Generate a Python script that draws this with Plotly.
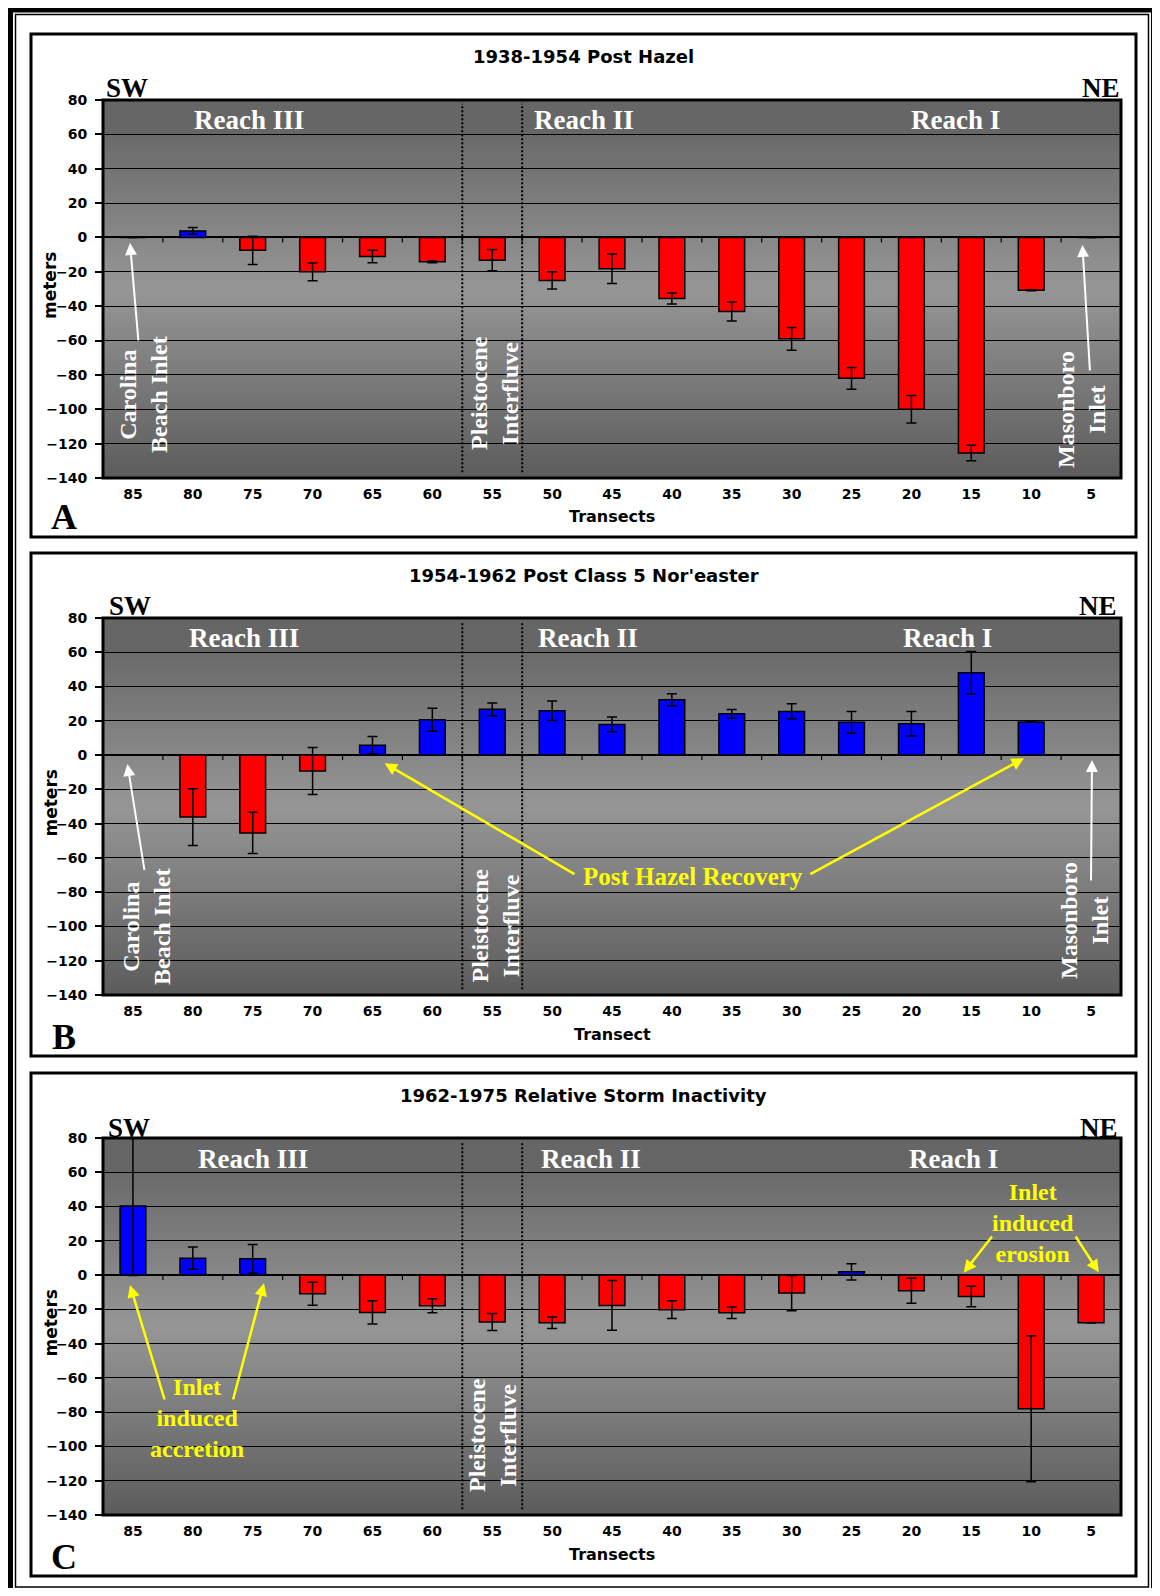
import plotly.graph_objects as go

# ---------------- data ----------------
transects = ["85", "80", "75", "70", "65", "60", "55", "50", "45", "40",
             "35", "30", "25", "20", "15", "10", "5"]

a_vals = [0, 3.8, -7.5, -20.0, -11.1, -14.2, -13.2, -25.0, -18.2, -35.5,
          -43.1, -59.0, -82.0, -100.0, -125.5, -30.7, 0]
a_err = [0, 2.0, 8.2, 5.2, 3.6, 0.5, 6.2, 5.0, 8.6, 3.2,
         5.5, 6.6, 6.3, 8.0, 4.5, 0.3, 0]

b_vals = [0, -36.2, -45.4, -9.3, 5.8, 20.6, 26.7, 25.9, 17.9, 32.3,
          24.1, 25.5, 19.1, 18.3, 48.1, 19.3, 0]
b_err = [0, 16.6, 12.0, 13.7, 5.0, 6.7, 3.7, 5.7, 4.3, 3.5,
         2.5, 4.5, 6.3, 7.1, 12.4, 0.2, 0]

c_vals = [40.3, 9.9, 9.5, -10.9, -21.8, -17.9, -27.4, -27.8, -17.7, -20.2,
          -22.0, -10.5, 1.9, -9.1, -12.5, -78.0, -27.8]
c_err = [40.5, 6.5, 8.3, 6.7, 6.8, 4.1, 5.0, 3.3, 14.5, 5.2,
         3.4, 10.3, 4.7, 7.3, 6.0, 42.6, 0.2]

y_ticks = [80, 60, 40, 20, 0, -20, -40, -60, -80, -100, -120, -140]

# ---------------- page geometry helpers ----------------
W, H, OFF = 1152, 1580, 8


def px(x):
    return (x - OFF) / W


def py(y):
    return 1 - (y - OFF) / H


PL, PR = 103, 1121
SERIF = "Liberation Serif"
SANS = "DejaVu Sans"

panels = [
    dict(vals=a_vals, err=a_err, title="1938-1954 Post Hazel", xtitle="Transects",
         letter="A", top=100, bottom=478, box=(31, 34, 1136, 537), title_y=57,
         sw=(127, 88), ne=(1100.5, 88),
         reach=[(248.5, 120), (584, 120), (955, 120)]),
    dict(vals=b_vals, err=b_err, title="1954-1962 Post Class 5 Nor'easter", xtitle="Transect",
         letter="B", top=618, bottom=995, box=(31, 553, 1136, 1056), title_y=575.7,
         sw=(130, 606), ne=(1097.5, 606),
         reach=[(243.6, 637.5), (588, 637.5), (947, 638)]),
    dict(vals=c_vals, err=c_err, title="1962-1975 Relative Storm Inactivity", xtitle="Transects",
         letter="C", top=1138, bottom=1515, box=(31, 1073, 1136, 1576), title_y=1095.7,
         sw=(129, 1127.5), ne=(1099, 1127.5),
         reach=[(253.4, 1158.5), (591, 1158.5), (953, 1159)]),
]

fig = go.Figure()
shapes = []
annotations = []

# outer decorative frame
shapes.append(dict(type="rect", xref="paper", yref="paper",
                   x0=px(10.5), x1=px(1153.5), y0=py(1593), y1=py(10),
                   line=dict(color="black", width=5), layer="above"))
shapes.append(dict(type="rect", xref="paper", yref="paper",
                   x0=px(15.5), x1=px(1148.5), y0=py(1587), y1=py(14.5),
                   line=dict(color="black", width=1.5), layer="above"))


def lerp(c1, c2, t):
    return tuple(round(a + (b - a) * t) for a, b in zip(c1, c2))


def shade(v):
    # vertical gradient of the plot area: dark at top/bottom, light in middle
    dark_top = (106, 106, 106)
    light = (150, 150, 150)
    dark_bot = (92, 92, 92)
    if v >= 60:
        return (102, 102, 102)
    if v >= -30:
        return lerp(light, dark_top, (v + 30) / 90)
    return lerp(dark_bot, light, (v + 140) / 110)


for i, p in enumerate(panels):
    sfx = "" if i == 0 else str(i + 1)
    xa, ya = "x" + sfx, "y" + sfx
    colors = ["#0000FF" if v > 0 else "#FF0000" for v in p["vals"]]
    fig.add_trace(go.Bar(
        x=transects, y=p["vals"], xaxis=xa, yaxis=ya, width=0.43,
        marker=dict(color=colors, line=dict(color="black", width=1.5)),
        error_y=dict(type="data", array=p["err"], visible=True, color="black",
                     thickness=1.5, width=5),
        showlegend=False, hoverinfo="skip"))

    dom_y = [py(p["bottom"]), py(p["top"])]
    fig.update_layout(**{
        "xaxis" + sfx: dict(domain=[px(PL), px(PR)], anchor=ya, type="category",
                            categoryorder="array", categoryarray=transects,
                            range=[-0.5, len(transects) - 0.5], showgrid=False,
                            zeroline=False, showline=False, ticks="",
                            ticklabelstandoff=6, automargin=False,
                            tickfont=dict(family=SANS, size=14, color="black", weight="bold")),
        "yaxis" + sfx: dict(domain=dom_y, anchor=xa, range=[-140, 80],
                            tickvals=y_ticks, showgrid=True, gridcolor="black",
                            gridwidth=1, zeroline=True, zerolinecolor="black",
                            zerolinewidth=1.5, showline=False, ticks="outside",
                            ticklen=7, tickwidth=1.5, tickcolor="black",
                            ticklabelstandoff=5, automargin=False,
                            tickfont=dict(family=SANS, size=14, color="black", weight="bold")),
    })

    # gradient background strips (overlapping to avoid seams)
    step = 2.5
    n = int(220 / step)
    for k in range(n):
        v0 = -140 + k * step
        c = shade(v0 + step / 2)
        shapes.append(dict(type="rect", xref=xa + " domain", yref=ya, x0=0, x1=1,
                           y0=v0, y1=min(v0 + step * 1.6, 80), line=dict(width=0),
                           fillcolor="rgb(%d,%d,%d)" % c, layer="below"))

    # plot frame
    shapes.append(dict(type="rect", xref=xa + " domain", yref=ya + " domain",
                       x0=0, x1=1, y0=0, y1=1, line=dict(color="black", width=3),
                       layer="above"))
    # dotted lines around transect 55
    for xb in (5.5, 6.5):
        shapes.append(dict(type="line", xref=xa, yref=ya + " domain", x0=xb, x1=xb,
                           y0=0.015, y1=0.99,
                           line=dict(color="black", width=2, dash="2px,2px"),
                           layer="above"))
    # category tick marks hanging from zero line
    for j in range(len(transects) - 1):
        shapes.append(dict(type="line", xref=xa, yref=ya, x0=j + 0.5, x1=j + 0.5,
                           ysizemode="pixel", yanchor=0, y0=0, y1=-5,
                           line=dict(color="black", width=1.2), layer="above"))
    # panel box
    bx0, by0, bx1, by1 = p["box"]
    shapes.append(dict(type="rect", xref="paper", yref="paper",
                       x0=px(bx0), x1=px(bx1), y0=py(by1), y1=py(by0),
                       line=dict(color="black", width=3), layer="above"))

    def ann(text, x, y, size, color="black", family=SERIF, angle=0, **kw):
        annotations.append(dict(text=text, x=px(x), y=py(y), xref="paper", yref="paper",
                                showarrow=False, xanchor="center", yanchor="middle",
                                textangle=angle,
                                font=dict(family=family, size=size, color=color), **kw))

    ann("<b>%s</b>" % p["title"], 583.5, p["title_y"], 18, family=SANS)
    ann("<b>SW</b>", p["sw"][0], p["sw"][1], 27)
    ann("<b>NE</b>", p["ne"][0], p["ne"][1], 27)
    for (rx, ry), label in zip(p["reach"], ["Reach III", "Reach II", "Reach I"]):
        ann("<b>%s</b>" % label, rx, ry, 27, color="white")
    ann("<b>%s</b>" % p["letter"], 64, (p["box"][3] - 19.5), 36)
    ann("<b>%s</b>" % p["xtitle"], 612, p["bottom"] + 39, 16, family=SANS)
    ann("<b>meters</b>", 50, (p["top"] + p["bottom"]) / 2 - 3, 17, family=SANS, angle=-90)


def ann2(text, x, y, size, color, angle=0):
    annotations.append(dict(text=text, x=px(x), y=py(y), xref="paper", yref="paper",
                            showarrow=False, xanchor="center", yanchor="middle",
                            textangle=angle, align="center",
                            font=dict(family=SERIF, size=size, color=color)))


def arrow(tip, tail, color, width, size=1.0):
    annotations.append(dict(text="", x=px(tip[0]), y=py(tip[1]), xref="paper", yref="paper",
                            ax=tail[0] - tip[0], ay=tail[1] - tip[1], showarrow=True,
                            arrowhead=2, arrowsize=size, arrowwidth=width,
                            arrowcolor=color, standoff=0))


# Panel A
ann2("<b>Carolina<br>Beach Inlet</b>", 144, 395, 24, "white", -90)
ann2("<b>Pleistocene<br>Interfluve</b>", 495, 393, 24, "white", -90)
ann2("<b>Masonboro<br>Inlet</b>", 1081, 410, 24, "white", -90)
arrow((130, 243), (138.5, 342), "white", 2, 1.2)
arrow((1082.4, 245), (1090, 372), "white", 2, 1.2)

# Panel B
ann2("<b>Carolina<br>Beach Inlet</b>", 146, 927, 24, "white", -90)
ann2("<b>Pleistocene<br>Interfluve</b>", 494.5, 926, 24, "white", -90)
ann2("<b>Masonboro<br>Inlet</b>", 1084, 921, 24, "white", -90)
arrow((127.4, 764), (144.7, 871.7), "white", 2, 1.2)
arrow((1092, 760), (1091, 882), "white", 2, 1.2)
ann2("<b>Post Hazel Recovery</b>", 692.5, 876, 25, "#FFFF00")
arrow((384.6, 763.3), (576, 875), "#FFFF00", 2.5)
arrow((1024, 758.3), (808.8, 875), "#FFFF00", 2.5)

# Panel C
ann2("<b>Pleistocene<br>Interfluve</b>", 492, 1435, 24, "white", -90)
ann2("<b>Inlet<br>induced<br>accretion</b>", 197, 1418, 24, "#FFFF00")
ann2("<b>Inlet<br>induced<br>erosion</b>", 1032.7, 1222.5, 24, "#FFFF00")
arrow((130, 1285), (165, 1401), "#FFFF00", 2.5)
arrow((264, 1283.3), (232.7, 1401), "#FFFF00", 2.5)
arrow((963.7, 1272.7), (993.2, 1235), "#FFFF00", 2.5)
arrow((1098.8, 1272.3), (1074.7, 1235), "#FFFF00", 2.5)

fig.update_layout(
    width=W, height=H,
    margin=dict(l=0, r=0, t=0, b=0, pad=0, autoexpand=False),
    paper_bgcolor="white", plot_bgcolor="rgba(0,0,0,0)",
    shapes=shapes, annotations=annotations, hovermode=False,
    bargap=0.57,
)

fig.write_html("out.html")
